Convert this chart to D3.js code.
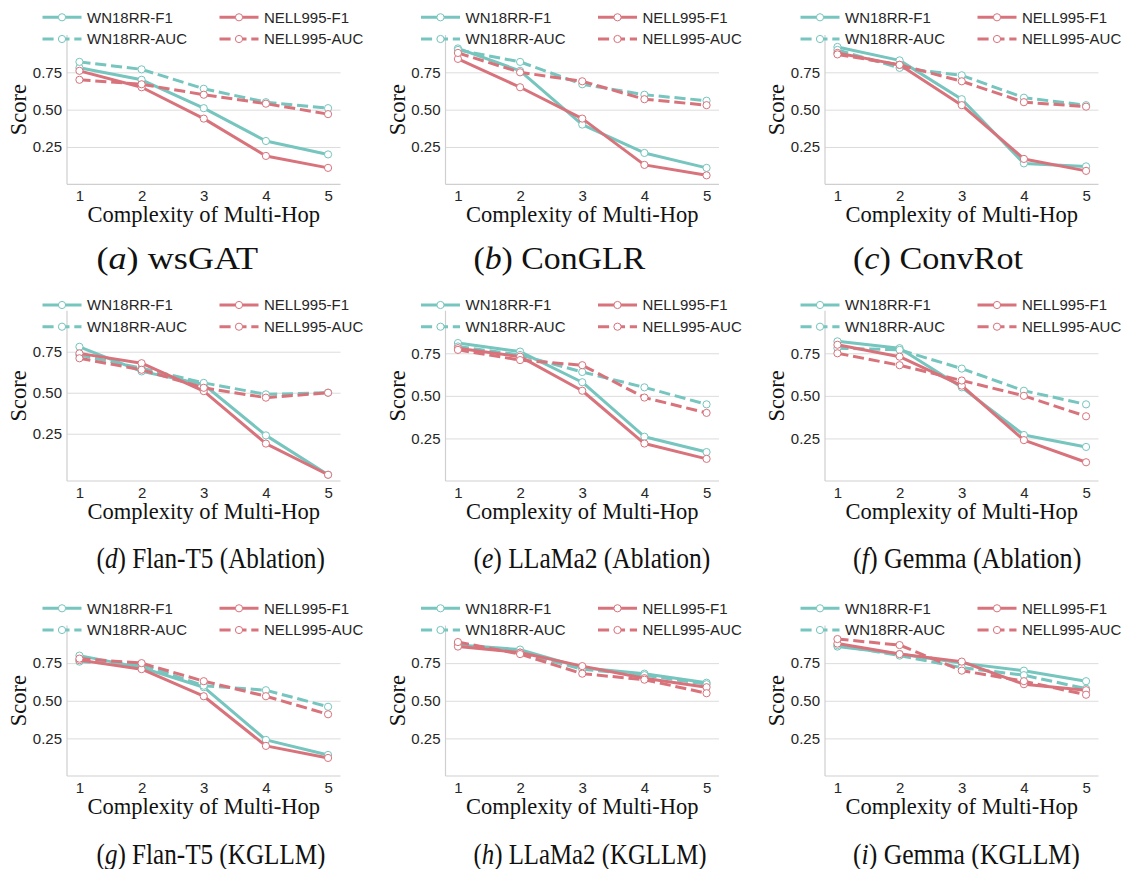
<!DOCTYPE html>
<html>
<head>
<meta charset="utf-8">
<script src="https://cdn.jsdelivr.net/npm/d3@7"></script>
<style>
  body { margin: 0; background: #fff; }
</style>
</head>
<body>
<script>
// ---- data ----
var hops = [1, 2, 3, 4, 5];
var yTicks = [0.25, 0.5, 0.75];
var seriesNames = ["WN18RR-F1", "WN18RR-AUC", "NELL995-F1", "NELL995-AUC"];
var panelLetters = ["a", "b", "c", "d", "e", "f", "g", "h", "i"];
var panelNames = ["wsGAT", "ConGLR", "ConvRot",
  "Flan-T5 (Ablation)", "LLaMa2 (Ablation)", "Gemma (Ablation)",
  "Flan-T5 (KGLLM)", "LLaMa2 (KGLLM)", "Gemma (KGLLM)"];

var wsgatWnF1    = [0.78, 0.70, 0.51, 0.29, 0.20];
var wsgatWnAuc   = [0.82, 0.77, 0.64, 0.55, 0.51];
var wsgatNellF1  = [0.76, 0.65, 0.44, 0.19, 0.11];
var wsgatNellAuc = [0.70, 0.67, 0.60, 0.54, 0.47];

var conglrWnF1    = [0.91, 0.76, 0.40, 0.21, 0.11];
var conglrWnAuc   = [0.90, 0.82, 0.67, 0.60, 0.56];
var conglrNellF1  = [0.84, 0.65, 0.44, 0.13, 0.06];
var conglrNellAuc = [0.88, 0.75, 0.69, 0.57, 0.53];

var convrotWnF1    = [0.92, 0.83, 0.57, 0.14, 0.12];
var convrotWnAuc   = [0.90, 0.78, 0.73, 0.58, 0.53];
var convrotNellF1  = [0.88, 0.80, 0.53, 0.17, 0.09];
var convrotNellAuc = [0.87, 0.80, 0.69, 0.55, 0.52];

var flanAblWnF1    = [0.78, 0.63, 0.55, 0.24, 0.00];
var flanAblWnAuc   = [0.73, 0.65, 0.56, 0.49, 0.50];
var flanAblNellF1  = [0.74, 0.68, 0.51, 0.19, 0.00];
var flanAblNellAuc = [0.71, 0.64, 0.53, 0.47, 0.50];

var llamaAblWnF1    = [0.81, 0.76, 0.58, 0.26, 0.17];
var llamaAblWnAuc   = [0.79, 0.74, 0.64, 0.55, 0.45];
var llamaAblNellF1  = [0.78, 0.73, 0.53, 0.22, 0.13];
var llamaAblNellAuc = [0.77, 0.71, 0.68, 0.49, 0.40];

var gemmaAblWnF1    = [0.82, 0.78, 0.55, 0.27, 0.20];
var gemmaAblWnAuc   = [0.78, 0.77, 0.66, 0.53, 0.45];
var gemmaAblNellF1  = [0.80, 0.73, 0.56, 0.24, 0.11];
var gemmaAblNellAuc = [0.75, 0.68, 0.59, 0.50, 0.38];

var flanKgWnF1    = [0.80, 0.72, 0.59, 0.24, 0.14];
var flanKgWnAuc   = [0.76, 0.74, 0.60, 0.57, 0.46];
var flanKgNellF1  = [0.77, 0.71, 0.53, 0.20, 0.12];
var flanKgNellAuc = [0.78, 0.75, 0.63, 0.53, 0.41];

var llamaKgWnF1    = [0.87, 0.84, 0.72, 0.68, 0.62];
var llamaKgWnAuc   = [0.88, 0.82, 0.71, 0.67, 0.61];
var llamaKgNellF1  = [0.86, 0.82, 0.73, 0.65, 0.59];
var llamaKgNellAuc = [0.89, 0.81, 0.68, 0.64, 0.55];

var gemmaKgWnF1    = [0.86, 0.81, 0.75, 0.70, 0.63];
var gemmaKgWnAuc   = [0.87, 0.80, 0.72, 0.67, 0.58];
var gemmaKgNellF1  = [0.88, 0.81, 0.76, 0.61, 0.57];
var gemmaKgNellAuc = [0.91, 0.87, 0.70, 0.63, 0.54];

var panels = [
  [wsgatWnF1, wsgatWnAuc, wsgatNellF1, wsgatNellAuc],
  [conglrWnF1, conglrWnAuc, conglrNellF1, conglrNellAuc],
  [convrotWnF1, convrotWnAuc, convrotNellF1, convrotNellAuc],
  [flanAblWnF1, flanAblWnAuc, flanAblNellF1, flanAblNellAuc],
  [llamaAblWnF1, llamaAblWnAuc, llamaAblNellF1, llamaAblNellAuc],
  [gemmaAblWnF1, gemmaAblWnAuc, gemmaAblNellF1, gemmaAblNellAuc],
  [flanKgWnF1, flanKgWnAuc, flanKgNellF1, flanKgNellAuc],
  [llamaKgWnF1, llamaKgWnAuc, llamaKgNellF1, llamaKgNellAuc],
  [gemmaKgWnF1, gemmaKgWnAuc, gemmaKgNellF1, gemmaKgNellAuc]
];

// ---- layout / style ----
var width = 1128, height = 869;
var teal = "#76c5be", red = "#d8737c";
var colors = [teal, teal, red, red];
var dashes = [null, "11.1,4.8", null, "11.1,4.8"];
var gridColor = "#dcdcdc", spineColor = "#cfcfcf", textColor = "#262626";

var colLeft = [67, 445.5, 825],
    plotW = 273.5;
var rowTop = [35, 310.7, 625.5],      // y of value 1.0
    rowBottom = [184.3, 481, 776];    // y of axis bottom
var legendY = [17.3, 305, 608.3];
var capBase = [268.5, 568, 864],
    capLeft = [96.5, 473.5, 853],
    capSize = [32, 29, 29];
var capWidth = [161.7, 171.7, 170, 228.3, 236.7, 228.3, 229, 233, 226.7];

var svg = d3.select("body").append("svg")
    .attr("width", width)
    .attr("height", height)
    .style("font-family", "'Liberation Sans', Arial, sans-serif");

var x = d3.scaleLinear().domain([0.8, 5.2]);

panels.forEach(function(series, p) {
  var col = p % 3, row = Math.floor(p / 3);
  var x0 = colLeft[col];
  var yMin = p === 3 ? -0.038 : 0;   // (d) has auto bottom margin
  var y = d3.scaleLinear().domain([yMin, 1.0]).range([rowBottom[row], rowTop[row]]);
  var xs = x.copy().range([x0, x0 + plotW]);

  var g = svg.append("g");

  // grid + y tick labels
  var ya = g.append("g")
      .attr("transform", "translate(" + x0 + ",0)")
      .call(d3.axisLeft(y).tickValues(yTicks).tickSize(-plotW).tickPadding(5)
        .tickFormat(d3.format(".2f")));
  ya.select(".domain").remove();
  ya.selectAll("line").attr("stroke", gridColor).attr("stroke-width", 1);
  ya.selectAll("text").attr("fill", textColor).style("font-size", "15px")
    .style("font-family", "'Liberation Sans', Arial, sans-serif");

  // x ticks
  var xa = g.append("g")
      .attr("transform", "translate(0," + rowBottom[row] + ")")
      .call(d3.axisBottom(xs).tickValues(hops).tickSize(0).tickPadding(6)
        .tickFormat(d3.format("d")));
  xa.select(".domain").remove();
  xa.selectAll("text").attr("fill", textColor).style("font-size", "15px")
    .style("font-family", "'Liberation Sans', Arial, sans-serif");

  // spines
  g.append("line").attr("x1", x0).attr("x2", x0)
    .attr("y1", rowTop[row]).attr("y2", rowBottom[row])
    .attr("stroke", spineColor).attr("stroke-width", 1.2);
  g.append("line").attr("x1", x0).attr("x2", x0 + plotW)
    .attr("y1", rowBottom[row]).attr("y2", rowBottom[row])
    .attr("stroke", spineColor).attr("stroke-width", 1.2);

  // axis labels
  g.append("text")
    .attr("x", x0 + plotW / 2).attr("y", rowBottom[row] + 37.5)
    .attr("text-anchor", "middle")
    .style("font-family", "'Liberation Serif', 'Times New Roman', serif")
    .style("font-size", "22.5px").attr("fill", "#111")
    .text("Complexity of Multi-Hop");
  g.append("text")
    .attr("transform", "translate(" + (x0 - 41) + "," + ((rowTop[row] + rowBottom[row]) / 2) + ") rotate(-90)")
    .attr("text-anchor", "middle")
    .style("font-family", "'Liberation Serif', 'Times New Roman', serif")
    .style("font-size", "22.5px").attr("fill", "#111")
    .text("Score");

  // lines + markers
  var line = d3.line().x(function(d, i) { return xs(hops[i]); }).y(function(d) { return y(d); });
  series.forEach(function(vals, s) {
    g.append("path")
      .datum(vals)
      .attr("d", line)
      .attr("fill", "none")
      .attr("stroke", colors[s])
      .attr("stroke-width", 3)
      .attr("stroke-linejoin", "round")
      .attr("stroke-dasharray", dashes[s]);
    g.selectAll(".m" + s)
      .data(vals)
      .enter().append("circle")
      .attr("cx", function(d, i) { return xs(hops[i]); })
      .attr("cy", function(d) { return y(d); })
      .attr("r", 3.6)
      .attr("fill", "#fff")
      .attr("stroke", colors[s])
      .attr("stroke-width", 1);
  });

  // legend (2 columns, column-major)
  seriesNames.forEach(function(name, s) {
    var lc = Math.floor(s / 2), lr = s % 2;
    var hx = x0 - 24.5 + lc * 177;
    var ly = legendY[row] + lr * 21.7;
    var lg = g.append("g");
    lg.append("line").attr("x1", hx).attr("x2", hx + 39)
      .attr("y1", ly).attr("y2", ly)
      .attr("stroke", colors[s]).attr("stroke-width", 3)
      .attr("stroke-dasharray", dashes[s]);
    lg.append("circle").attr("cx", hx + 19.5).attr("cy", ly).attr("r", 3.6)
      .attr("fill", "#fff").attr("stroke", colors[s]).attr("stroke-width", 1);
    lg.append("text").attr("x", hx + 44.5).attr("y", ly).attr("dy", "0.36em")
      .attr("fill", textColor).style("font-size", "15px")
      .text(name);
  });

  // caption
  var cap = svg.append("text")
    .attr("x", capLeft[col]).attr("y", capBase[row])
    .attr("textLength", capWidth[p])
    .attr("lengthAdjust", "spacingAndGlyphs")
    .style("font-family", "'Liberation Serif', 'Times New Roman', serif")
    .style("font-size", capSize[row] + "px").attr("fill", "#111");
  cap.append("tspan").text("(");
  cap.append("tspan").style("font-style", "italic").text(panelLetters[p]);
  cap.append("tspan").text(") " + panelNames[p]);
});
</script>
</body>
</html>
